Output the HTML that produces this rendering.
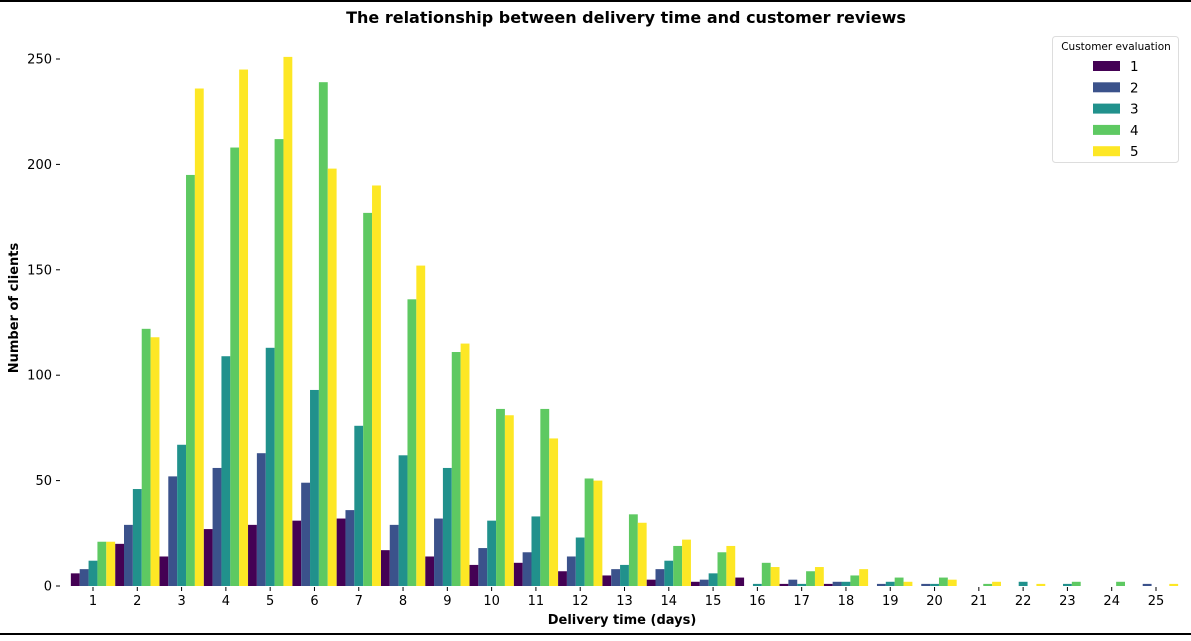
<!DOCTYPE html>
<html><head><meta charset="utf-8"><style>
body{margin:0;background:#fff;width:1191px;height:636px;overflow:hidden;font-family:"Liberation Sans","DejaVu Sans",sans-serif}
</style></head><body>
<svg id="chart" width="1191" height="636" xmlns="http://www.w3.org/2000/svg" font-family="DejaVu Sans, Liberation Sans, sans-serif">
<line x1="0" y1="1" x2="1191" y2="1" stroke="#000" stroke-width="2"/>
<line x1="0" y1="634" x2="1191" y2="634" stroke="#000" stroke-width="2"/>
<text x="626" y="23" text-anchor="middle" font-size="16" font-weight="bold">The relationship between delivery time and customer reviews</text>
<text x="622" y="624" text-anchor="middle" font-size="13" font-weight="bold">Delivery time (days)</text>
<text transform="translate(18,308) rotate(-90)" text-anchor="middle" font-size="13" font-weight="bold">Number of clients</text>
<g id="bars"></g><g id="axes"></g>
<g>
<rect x="1052.5" y="36.5" width="126" height="126" rx="3" fill="#fff" stroke="#ddd"/>
<text x="1116" y="50" text-anchor="middle" font-size="10.5">Customer evaluation</text>
<g id="legend-items"></g>
</g>
</svg>
<script>
const categories=[1,2,3,4,5,6,7,8,9,10,11,12,13,14,15,16,17,18,19,20,21,22,23,24,25];
const rating1=[6,20,14,27,29,31,32,17,14,10,11,7,5,3,2,4,1,1,0,0,0,0,0,0,0];
const rating2=[8,29,52,56,63,49,36,29,32,18,16,14,8,8,3,0,3,2,1,1,0,0,0,0,1];
const rating3=[12,46,67,109,113,93,76,62,56,31,33,23,10,12,6,1,1,2,2,1,0,2,1,0,0];
const rating4=[21,122,195,208,212,239,177,136,111,84,84,51,34,19,16,11,7,5,4,4,1,0,2,2,0];
const rating5=[21,118,236,245,251,198,190,152,115,81,70,50,30,22,19,9,9,8,2,3,2,1,0,0,1];
const yTicks=[0,50,100,150,200,250];
const seriesNames=["1","2","3","4","5"];
const series=[rating1,rating2,rating3,rating4,rating5];
const colors=["#440154","#3b528b","#21918c","#5ec962","#fde725"];
const NS="http://www.w3.org/2000/svg";
const y0=586,yScale=(586-59)/250;
const xOf=c=>93+(c-1)*(1156-93)/24;
const yOf=v=>y0-v*yScale;
const bw=(1156-93)/24/5;
const bars=document.getElementById('bars'),axes=document.getElementById('axes');
function mk(t,a,p){const e=document.createElementNS(NS,t);for(const k in a)e.setAttribute(k,a[k]);p.appendChild(e);return e;}
series.forEach((s,si)=>{s.forEach((v,i)=>{if(v<=0)return;const x=xOf(categories[i])+(si-2.5)*bw;
const r=mk('rect',{x:x,y:yOf(v),width:bw,height:v*yScale,fill:colors[si]},bars);

});});
categories.forEach(c=>{const x=xOf(c);mk('line',{x1:x,y1:587,x2:x,y2:591,stroke:'#000'},axes);
const t=mk('text',{x:x,y:605,'text-anchor':'middle','font-size':13},axes);t.textContent=c;

});
yTicks.forEach(v=>{const y=yOf(v);mk('line',{x1:56,y1:y,x2:60,y2:y,stroke:'#000'},axes);
const t=mk('text',{x:52,y:y+4.5,'text-anchor':'end','font-size':13},axes);t.textContent=v;

});
const li=document.getElementById('legend-items');
seriesNames.forEach((n,i)=>{const y=66+i*21.3;
const r=mk('rect',{x:1093,y:y-5,width:27,height:10,fill:colors[i]},li);


const t=mk('text',{x:1130,y:y+5,'font-size':13.5},li);t.textContent=n;

});
</script>
</body></html>
